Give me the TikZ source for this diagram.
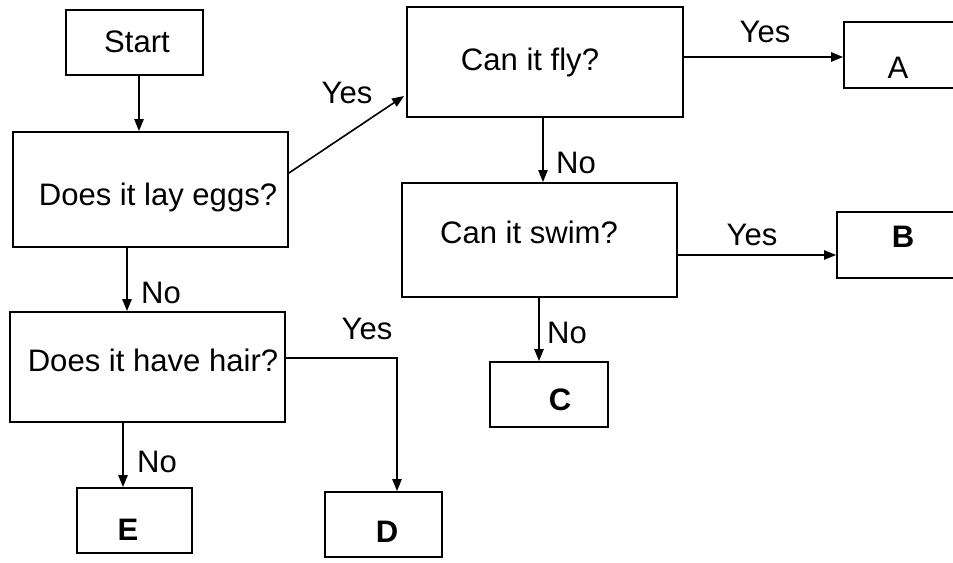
\documentclass[tikz,border=0pt]{standalone}
\usepackage{fontspec}
\setmainfont{Liberation Sans}
\usetikzlibrary{arrows.meta,calc}
\begin{document}
\begin{tikzpicture}[x=0.75pt,y=-0.75pt,
  box/.style={draw,line width=1.4pt,inner sep=0pt,minimum width=#1},
  box/.default=100,
  txt/.style={inner sep=0pt,font=\fontsize{23.3}{27}\selectfont},
  lbl/.style={txt},
  arr/.style={line width=1.2pt,-{Triangle[length=9pt,width=7pt]}},
  conn/.style={line width=1.2pt}]
\useasboundingbox (0,0) rectangle (953,563);
% boxes
\node[box=102.75pt,minimum height=48.75pt] (start) at (134.5,42.5) {};
\node[txt] (startt) at (137,42) {Start};
\node[box=206.25pt,minimum height=86.25pt] (eggs) at (150.5,189.5) {};
\node[txt] (eggst) at (158,197) {Does it lay eggs?};
\node[box=206.25pt,minimum height=82.5pt] (hair) at (147.5,367) {};
\node[txt] (hairt) at (153,360) {Does it have hair?};
\node[box=86.25pt,minimum height=48.75pt] (E) at (134.5,520.5) {};
\node[txt] (Et) at (128,530) {\bfseries E};
\node[box=87.75pt,minimum height=48.75pt] (D) at (383.5,524.5) {};
\node[txt] (Dt) at (387,532) {\bfseries D};
\node[box=207pt,minimum height=82.5pt] (fly) at (545,62) {};
\node[txt] (flyt) at (530,62) {Can it fly?};
\node[box=206.25pt,minimum height=85.5pt] (swim) at (539.5,240) {};
\node[txt] (swimt) at (529,232) {Can it swim?};
\node[box=88.5pt,minimum height=48.75pt] (C) at (549,394.5) {};
\node[txt] (Ct) at (560,400) {\bfseries C};
\node[box=90.75pt,minimum height=49.5pt] (A) at (904.5,55) {};
\node[txt] (At) at (898,68) {A};
\node[box=96pt,minimum height=49.5pt] (B) at (901,245) {};
\node[txt] (Bt) at (903,237) {\bfseries B};
% connectors
\draw[arr] ($(start.south)+(4.5,0)$) coordinate (s1) -- (s1 |- eggs.north);
\draw[arr] ($(eggs.east)+(0,-16.5)$) -- ($(fly.west)+(-2,34)$);
\draw[arr] ($(eggs.south)+(-23.5,0)$) coordinate (e1) -- (e1 |- hair.north);
\draw[arr] ($(hair.south)+(-24.5,0)$) coordinate (h1) -- (h1 |- E.north);
\draw[arr] ($(hair.east)+(0,-9)$) -| ($(D.north)+(13.5,0)$);
\draw[arr] ($(fly.east)+(0,-5)$) coordinate (f2) -- (f2 -| A.west);
\draw[arr] ($(fly.south)+(-2,0)$) coordinate (f1) -- (f1 |- swim.north);
\draw[arr] ($(swim.east)+(0,15)$) coordinate (w2) -- (w2 -| B.west);
\draw[arr] ($(swim.south)+(-0.5,0)$) coordinate (w1) -- (w1 |- C.north);
% labels
\node[lbl] (l1) at (347,93) {Yes};
\node[lbl] (l2) at (576,163) {No};
\node[lbl] (l3) at (765,32) {Yes};
\node[lbl] (l4) at (752,235) {Yes};
\node[lbl] (l5) at (567,333) {No};
\node[lbl] (l6) at (161,293) {No};
\node[lbl] (l7) at (157,462) {No};
\node[lbl] (l8) at (367,329) {Yes};
\end{tikzpicture}
\end{document}
